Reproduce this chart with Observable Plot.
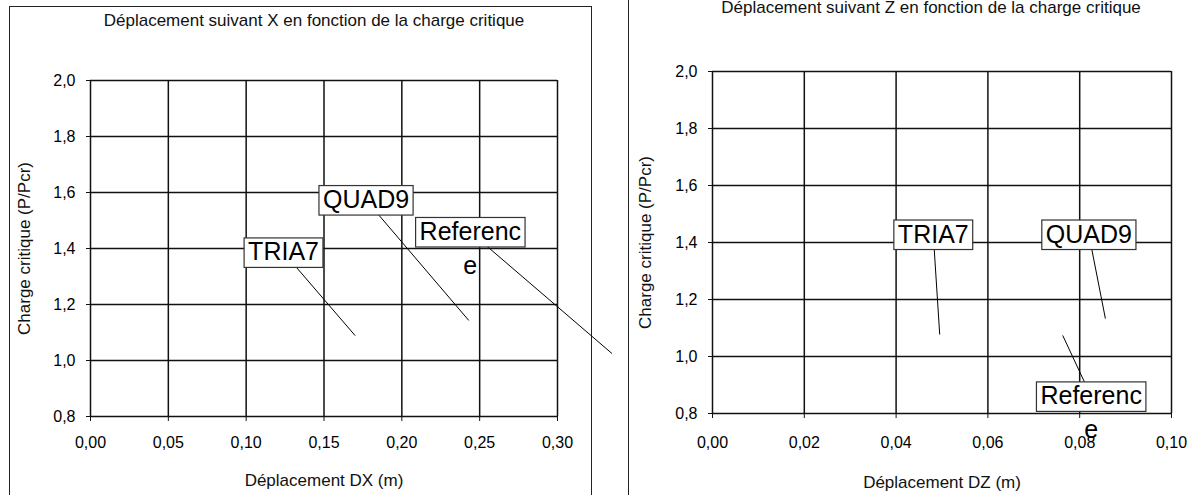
<!DOCTYPE html>
<html>
<head>
<meta charset="utf-8">
<script src="https://cdn.jsdelivr.net/npm/d3@7"></script>
<script src="https://cdn.jsdelivr.net/npm/@observablehq/plot@0.6"></script>
<style>
  html, body { margin: 0; padding: 0; background: #fff; }
  #wrap { position: relative; width: 1200px; height: 495px; overflow: hidden; background: #fff; font-family: "Liberation Sans", Arial, sans-serif; }
  .frame { position: absolute; border: 1.5px solid #222; box-sizing: border-box; }
  .panel { position: absolute; top: 0; }
</style>
</head>
<body>
<div id="wrap">
  <div class="frame" style="left:9px; top:6px; width:583px; height:500px;"></div>
  <div class="frame" style="left:628px; top:-10px; width:590px; height:520px;"></div>
  <div class="panel" id="left" style="left:0px;"></div>
  <div class="panel" id="right" style="left:620px;"></div>
</div>
<script>
// ---- data ----
const yTicks = [0.8, 1.0, 1.2, 1.4, 1.6, 1.8, 2.0];
const dxTicks = [0, 0.05, 0.10, 0.15, 0.20, 0.25, 0.30];
const dzTicks = [0, 0.02, 0.04, 0.06, 0.08, 0.10];
const series = ["TRIA7", "QUAD9", "Reference"];

// callout targets and callout label positions, panel DX
const dxPointX = [0.170, 0.243, 0.335];
const dxPointY = [1.089, 1.143, 1.025];
const dxLabelX = [0.124, 0.177, 0.244];
const dxLabelY = [1.386, 1.573, 1.459];

// callout targets and callout label positions, panel DZ
const dzPointX = [0.0495, 0.0856, 0.0763];
const dzPointY = [1.077, 1.133, 1.074];
const dzLabelX = [0.0481, 0.0820, 0.0825];
const dzLabelY = [1.428, 1.428, 0.860];

const titleX = "Déplacement suivant X en fonction de la charge critique";
const titleZ = "Déplacement suivant Z en fonction de la charge critique";
const xLabelX = "Déplacement DX (m)";
const xLabelZ = "Déplacement DZ (m)";
const yLabel = "Charge critique (P/Pcr)";

const FONT = "'Liberation Sans', Arial, sans-serif";
const fmt1 = d => d.toFixed(1).replace(".", ",");
const fmt2 = d => d.toFixed(2).replace(".", ",");

function callouts(px, py, lx, ly) {
  return series.map((name, i) => ({
    name,
    line1: name.length > 8 ? name.slice(0, 8) : name,
    line2: name.length > 8 ? name.slice(8) : "",
    px: px[i], py: py[i], lx: lx[i], ly: ly[i]
  }));
}

function panel(o) {
  const data = callouts(o.px, o.py, o.lx, o.ly);
  const svg = Plot.plot({
    width: o.width, height: 495,
    marginLeft: o.ml, marginRight: o.mr, marginTop: o.mt, marginBottom: o.mb,
    style: { background: "transparent", overflow: "visible", fontFamily: FONT, color: "#000" },
    x: { domain: o.xDomain },
    y: { domain: [0.8, 2.0] },
    marks: [
      Plot.ruleY(yTicks, { stroke: "#111", strokeWidth: 1.5 }),
      Plot.ruleX(o.xTicks, { stroke: "#111", strokeWidth: 1.5 }),
      Plot.axisY(yTicks, { tickFormat: fmt1, tickSize: 4, tickPadding: 11, fontSize: 16, label: null, stroke: "#111" }),
      Plot.axisX(o.xTicks, { tickFormat: fmt2, tickSize: 5, tickPadding: o.xPad, fontSize: 16, label: null, stroke: "#111" }),
      Plot.text([o.title], { frameAnchor: "top", lineAnchor: "bottom", dy: o.titleDy, dx: o.titleDx, fontSize: 17, fill: "#111" }),
      Plot.text([o.xLabel], { frameAnchor: "bottom", lineAnchor: "middle", dy: o.xLabelDy, fontSize: 17, fill: "#111" }),
      Plot.text([yLabel], { frameAnchor: "left", textAnchor: "middle", rotate: -90, lineAnchor: "middle", dx: o.yLabelDx, fontSize: 17, fill: "#111" }),
      Plot.link(data, { x1: "lx", y1: "ly", x2: "px", y2: "py", stroke: "#000", strokeWidth: 1 }),
      Plot.text(data, { x: "lx", y: "ly", text: "line1", fontSize: 25, lineAnchor: "middle", fill: "#000" }),
      Plot.text(data, { x: "lx", y: "ly", text: "line2", fontSize: 25, lineAnchor: "middle", dy: 34, fill: "#000" })
    ]
  });
  svg._line1 = new Set(data.map(d => d.line1));
  return svg;
}

function boxes(svg) {
  const names = svg._line1;
  svg.querySelectorAll("text").forEach(t => {
    if (!names.has(t.textContent)) return;
    const b = t.getBBox();
    const r = document.createElementNS("http://www.w3.org/2000/svg", "rect");
    r.setAttribute("x", b.x - 4);
    r.setAttribute("y", b.y + 0.5);
    r.setAttribute("width", b.width + 8);
    r.setAttribute("height", b.height + 1.5);
    r.setAttribute("fill", "#fff");
    r.setAttribute("stroke", "#333");
    r.setAttribute("stroke-width", 1.2);
    if (t.getAttribute("transform")) r.setAttribute("transform", t.getAttribute("transform"));
    t.parentNode.insertBefore(r, t);
  });
}

const left = panel({
  width: 625, ml: 90, mr: 68, mt: 80, mb: 79,
  xDomain: [0, 0.30], xTicks: dxTicks, xPad: 15,
  title: titleX, titleDy: -55, titleDx: -10,
  xLabel: xLabelX, xLabelDy: 64, yLabelDx: -66,
  px: dxPointX, py: dxPointY, lx: dxLabelX, ly: dxLabelY
});
document.getElementById("left").appendChild(left);
boxes(left);

const right = panel({
  width: 580, ml: 92, mr: 29, mt: 71, mb: 82,
  xDomain: [0, 0.10], xTicks: dzTicks, xPad: 18,
  title: titleZ, titleDy: -59, titleDx: -11,
  xLabel: xLabelZ, xLabelDy: 69, yLabelDx: -67,
  px: dzPointX, py: dzPointY, lx: dzLabelX, ly: dzLabelY
});
document.getElementById("right").appendChild(right);
boxes(right);
</script>
</body>
</html>
